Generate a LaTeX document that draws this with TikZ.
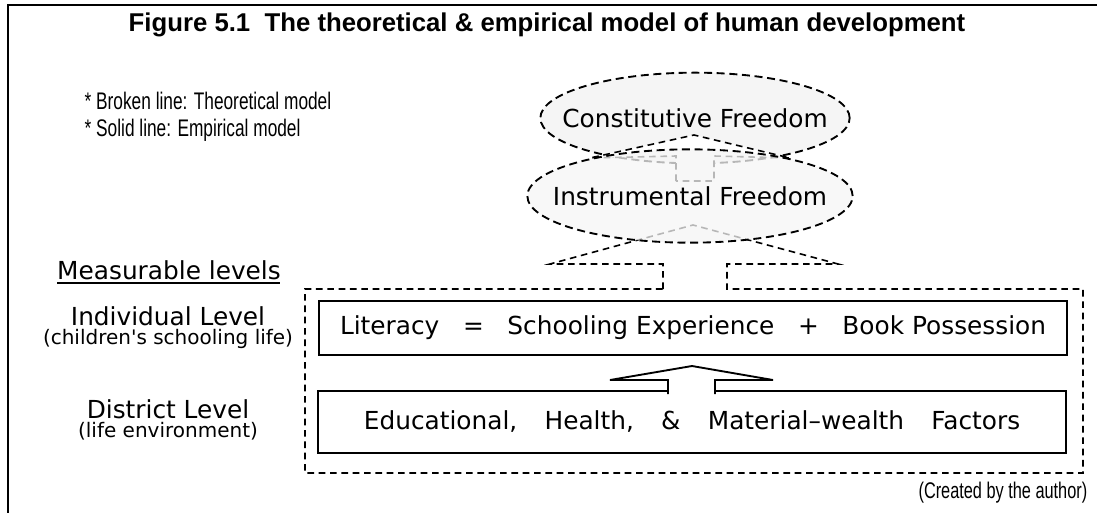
\documentclass[tikz,border=0pt]{standalone}
\usepackage{fontspec}
\setmainfont{Liberation Sans}
\newfontfamily\narrowfont[FakeStretch=0.72]{Liberation Sans}
\newfontfamily\gothicfont{DejaVu Sans}
\usetikzlibrary{shapes.geometric,positioning}

\begin{document}
\begin{tikzpicture}[x=0.75pt,y=-0.75pt]

% Definitions
\tikzstyle{Freedom} = [ellipse, draw=black, fill=gray!8, inner sep=0pt, line width=1.4pt, dash pattern=on 6pt off 3.5pt, font=\gothicfont\fontsize{18.6}{21}\selectfont]
\tikzstyle{Factor} = [rectangle, draw=black, fill=white, line width=1.6pt, font=\gothicfont\fontsize{18.6}{21}\selectfont]
\tikzstyle{Level} = [font=\gothicfont\fontsize{18.6}{21}\selectfont]
\tikzstyle{Sub} = [font=\gothicfont\fontsize{15}{18}\selectfont]
\tikzstyle{theory} = [draw=black, fill=white, line width=1.2pt, dash pattern=on 5pt off 3.5pt]
\tikzstyle{empiric} = [draw=black, fill=white, line width=1.4pt]
\newcommand{\gap}{\hspace{1.1em}}

\useasboundingbox (0,0) rectangle (1097,512);
\draw [line width=1.2pt] (8,530) -- (8,5) -- (1110,5);

\node (title) at (547,25) {\bfseries\fontsize{19.3}{22}\selectfont Figure 5.1\ \ The theoretical \& empirical model of human development};

\node (legendBroken) [anchor=west, font=\narrowfont\fontsize{18}{21}\selectfont] at (80,101) {* Broken line: Theoretical model};
\node (legendSolid) [anchor=west, font=\narrowfont\fontsize{18}{21}\selectfont] at (80,130) {* Solid line: Empirical model};

% theoretical part
\node (CF) [Freedom, minimum width=232pt, minimum height=68pt] at (695,118) {\makebox[0pt]{Constitutive Freedom}};
\draw [theory] (676,181) -- (676,156) -- (590,158) -- (694,135) -- (790,158) -- (714,156) -- (714,181) -- cycle;

\draw [theory] (663,289) -- (663,264) -- (550,264) -- (693,225) -- (838,264) -- (727,264) -- (727,289)
  -- (1083,289) -- (1083,473) -- (305,473) -- (305,289) -- cycle;

\node (IF) [Freedom, fill opacity=0.75, text opacity=1, minimum width=244pt, minimum height=70pt] at (690,196) {\makebox[0pt]{Instrumental Freedom}};

% empirical part
\node (literacy) [Factor, minimum width=561pt, minimum height=40pt] at (693,328) {Literacy\ \ \ =\ \ \ Schooling Experience\ \ \ +\ \ \ Book Possession};
\node (factors) [Factor, minimum width=561pt, minimum height=46pt] at (692,422) {Educational,\gap Health,\gap \&\gap Material–wealth\gap Factors};
\draw [empiric] (668,394) -- (668,380) -- (610,380) -- (692,366) -- (773,380) -- (715,380) -- (715,394);

% levels
\node (measurable) [Level] at (169,270) {Measurable levels};
\draw [line width=1.2pt] (57,283) -- (280,283);
\node (indiv) [Level] at (168,316) {Individual Level};
\node (indivSub) [Sub, below=-4pt of indiv] {(children's schooling life)};
\node (district) [Level] at (168,409) {District Level};
\node (districtSub) [Sub, below=-4pt of district] {(life environment)};

\node (credit) [anchor=east, font=\narrowfont\fontsize{17}{20}\selectfont] at (1092,493) {(Created by the author)};

\end{tikzpicture}
\end{document}
